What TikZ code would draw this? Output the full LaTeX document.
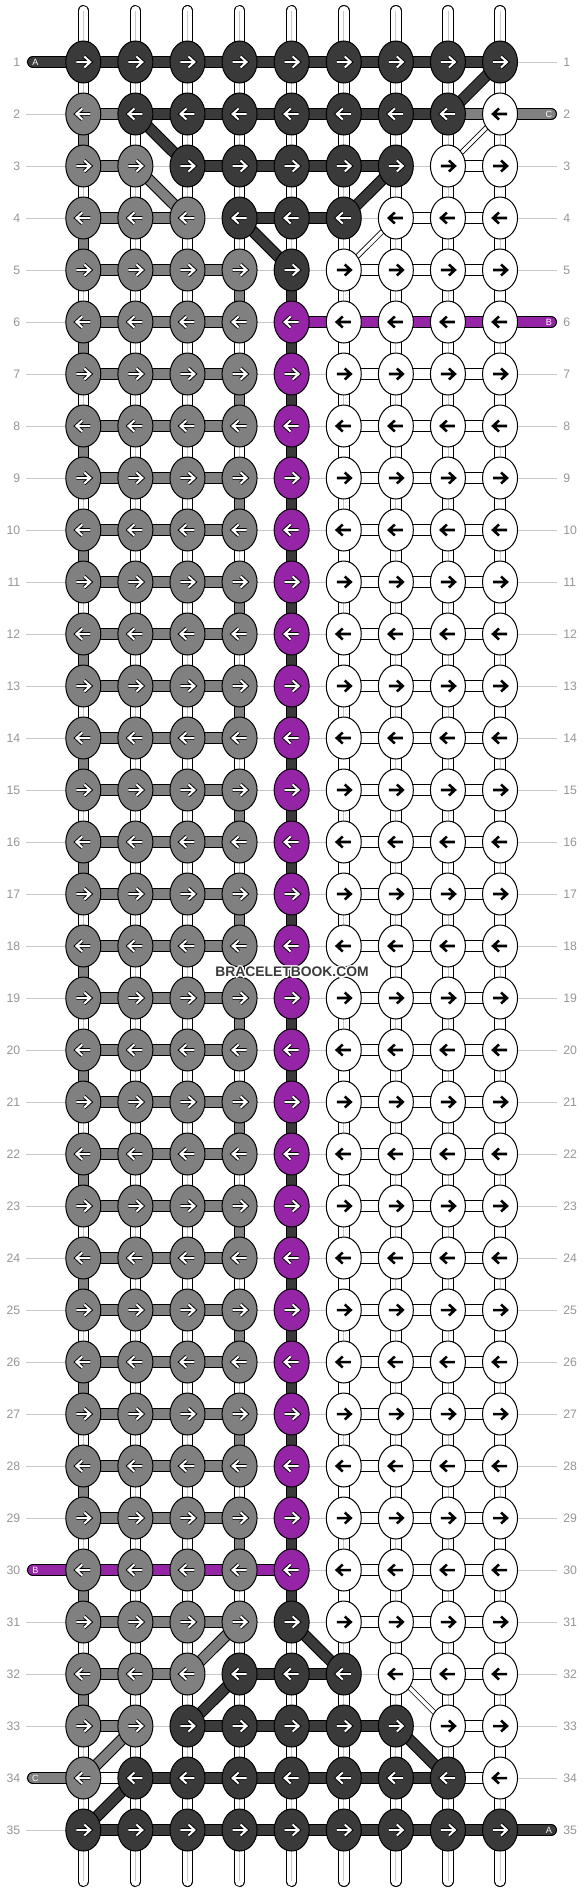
\documentclass[tikz,border=0pt]{standalone}
\usepackage{fontspec}
\setmainfont{Liberation Sans}
\usetikzlibrary{shapes.geometric}
\definecolor{kcD}{RGB}{58,58,58}
\definecolor{kcG}{RGB}{128,128,128}
\definecolor{kcW}{RGB}{255,255,255}
\definecolor{kcP}{RGB}{150,36,166}
\definecolor{kline}{RGB}{200,200,200}
\definecolor{knum}{RGB}{150,150,150}
\def\Wletter{W}
\begin{document}
\begin{tikzpicture}[x=0.75pt,y=-0.75pt,
  knot/.style={ellipse, draw=black, line width=0.75pt, minimum width=26.25pt, minimum height=31.5pt, inner sep=0pt},
  strandbar/.style={line width=0.75pt, draw=black, double=#1, double distance=7.2pt},
  thinbar/.style={line width=0.6pt, draw=black, double=#1, double distance=2.6pt},
  centerline/.style={draw=kline, line width=0.55pt},
  rowline/.style={draw=kline, line width=0.75pt},
  rownum/.style={text=knum, font=\fontsize{9.2}{11}\selectfont, inner sep=0pt},
  endlabel/.style={text=white, font=\fontsize{6.8}{8}\selectfont, inner sep=0pt},
  arrowblack/.style={draw=black, line width=1.9pt, line join=miter},
  arrowedge/.style={draw=black, line width=2.9pt, line join=miter},
  arrowwhite/.style={draw=white, line width=1.5pt, line join=miter},
  wmark/.style={font=\bfseries\fontsize{10.4}{12}\selectfont, text=kcD, inner sep=0pt}
]
\useasboundingbox (0,0) rectangle (584,1892);
\fill[white] (0,0) rectangle (584,1892);

% grid coordinates, row lines, row numbers
\foreach \rw in {1,...,35}{
  \foreach \cl in {0,...,8}{
    \coordinate (p-\rw-\cl) at ({83.3+52.09*\cl},{62+52*(\rw-1)});
  }
  \coordinate (L-\rw) at (26,{62+52*(\rw-1)});
  \coordinate (R-\rw) at (557,{62+52*(\rw-1)});
  \draw[rowline] (L-\rw) -- (R-\rw);
  \node[rownum, anchor=east] (nl-\rw) at (20.5,{62+52*(\rw-1)}) {\rw};
  \node[rownum, anchor=west] (nr-\rw) at (563,{62+52*(\rw-1)}) {\rw};
}

% top and bottom strands
\foreach \cl in {0,...,8}{
  \coordinate (T-\cl) at ({83.3+52.09*\cl},10.8);
  \coordinate (B-\cl) at ({83.3+52.09*\cl},1881.2);
  \draw[strandbar=white, line cap=round] (T-\cl) -- (p-1-\cl);
  \draw[centerline] (T-\cl) -- (p-1-\cl);
  \draw[strandbar=white, line cap=round] (p-35-\cl) -- (B-\cl);
  \draw[centerline] (p-35-\cl) -- (B-\cl);
}

% vertical segments (pairs of white strands)
\foreach \rw [evaluate=\rw as \rn using int(\rw+1)] in {1,...,34}{
  \foreach \cl in {0,...,8}{
    \draw[strandbar=white] (p-\rw-\cl) -- (p-\rn-\cl);
    \draw[centerline] (p-\rw-\cl) -- (p-\rn-\cl);
  }
}

% turning threads
\foreach \rw [evaluate=\rw as \rn using int(\rw+1)] in {2,4,...,32}{\draw[strandbar=kcG] (p-\rw-0) -- (p-\rn-0);}
\foreach \rw [evaluate=\rw as \rn using int(\rw+1)] in {5,7,...,29}{\draw[strandbar=kcG] (p-\rw-3) -- (p-\rn-3);}
\foreach \rw [evaluate=\rw as \rn using int(\rw+1)] in {3,5,...,33}{\draw[strandbar=kcW] (p-\rw-8) -- (p-\rn-8);}
\foreach \rw [evaluate=\rw as \rn using int(\rw+1)] in {6,8,...,30}{\draw[strandbar=kcW] (p-\rw-5) -- (p-\rn-5);}
\foreach \rw [evaluate=\rw as \rn using int(\rw+1)] in {5,...,30}{\draw[strandbar=kcD] (p-\rw-4) -- (p-\rn-4);}

% horizontal bars
\foreach \rw in {1,...,35}{
  \pgfmathtruncatemacro\kgL{min(\rw-1,35-\rw,4)}
  \pgfmathtruncatemacro\kgR{8-\kgL}
  \foreach \cl [evaluate=\cl as \cn using int(\cl+1)] in {0,...,7}{
    \ifnum\cn<\kgL\relax
      \draw[strandbar=kcG] (p-\rw-\cl) -- (p-\rw-\cn);
    \else\ifnum\cl>\kgR\relax
      \draw[strandbar=kcW] (p-\rw-\cl) -- (p-\rw-\cn);
    \else\ifnum\cl<\kgL\relax
    \else\ifnum\cn>\kgR\relax
    \else
      \draw[strandbar=kcD] (p-\rw-\cl) -- (p-\rw-\cn);
    \fi\fi\fi\fi
  }
}

% hidden threads showing between knots
\draw[strandbar=kcG] (p-2-0) -- (p-2-1);
\draw[strandbar=kcG] (p-2-7) -- (p-2-8);
\draw[strandbar=kcP] (p-6-4) -- (p-6-8);
\draw[strandbar=kcP] (p-30-0) -- (p-30-4);
\draw[strandbar=kcW] (p-34-0) -- (p-34-1);
\draw[strandbar=kcW] (p-34-7) -- (p-34-8);

% diagonals
\foreach \a/\b in {1-8/2-7, 2-1/3-2, 3-6/4-5, 4-3/5-4, 31-4/32-5, 32-3/33-2, 33-6/34-7, 34-1/35-0}
  {\draw[strandbar=kcD] (p-\a) -- (p-\b);}
\foreach \a/\b in {3-1/4-2, 31-3/32-2, 33-1/34-0}
  {\draw[strandbar=kcG] (p-\a) -- (p-\b);}
\foreach \a/\b in {2-8/3-7, 4-6/5-5, 32-6/33-7}
  {\draw[thinbar=kcW] (p-\a) -- (p-\b);}

% thread ends
\coordinate (eA1) at (32.8,62);
\coordinate (eA2) at (551.2,1830);
\coordinate (eC1) at (551.2,114);
\coordinate (eC2) at (32.8,1778);
\coordinate (eB1) at (551.2,322);
\coordinate (eB2) at (32.8,1570);
\draw[strandbar=kcD, line cap=round] (eA1) -- (p-1-0);
\draw[strandbar=kcD, line cap=round] (p-35-8) -- (eA2);
\draw[strandbar=kcG, line cap=round] (p-2-8) -- (eC1);
\draw[strandbar=kcG, line cap=round] (eC2) -- (p-34-0);
\draw[strandbar=kcP, line cap=round] (p-6-8) -- (eB1);
\draw[strandbar=kcP, line cap=round] (eB2) -- (p-30-0);
\node[endlabel] (lA1) at (35.5,62) {A};
\node[endlabel] (lA2) at (549,1830) {A};
\node[endlabel] (lC1) at (549,114) {C};
\node[endlabel] (lC2) at (35.5,1778) {C};
\node[endlabel] (lB1) at (549,322) {B};
\node[endlabel] (lB2) at (35.5,1570) {B};

% knots and arrows
\foreach \rw in {1,...,35}{
  \pgfmathtruncatemacro\kgL{min(\rw-1,35-\rw,4)}
  \pgfmathtruncatemacro\kgR{8-\kgL}
  \ifodd\rw\relax \def\kdir{1}\else\def\kdir{-1}\fi
  \foreach \cl in {0,...,8}{
    \ifnum\cl<\kgL\relax \def\kc{G}\else
      \ifnum\cl>\kgR\relax \def\kc{W}\else
        \ifnum\rw>5\relax \ifnum\rw<31\relax \def\kc{P}\else\def\kc{D}\fi\else\def\kc{D}\fi
      \fi
    \fi
    \node[knot, fill=kc\kc] (k-\rw-\cl) at (p-\rw-\cl) {};
    \ifx\kc\Wletter
      \draw[arrowblack, shift={(p-\rw-\cl)}, xscale=\kdir] (-7,0) -- (7,0) (1,-5.5) -- (7,0) -- (1,5.5);
    \else
      \draw[arrowedge, shift={(p-\rw-\cl)}, xscale=\kdir] (-7,0) -- (7,0) (1,-5.5) -- (7,0) -- (1,5.5);
      \draw[arrowwhite, shift={(p-\rw-\cl)}, xscale=\kdir] (-7,0) -- (7,0) (1,-5.5) -- (7,0) -- (1,5.5);
    \fi
  }
}

% watermark with white halo
\foreach \dx/\dy [count=\hi] in {-1.6/0, 1.6/0, 0/-1.6, 0/1.6, -1.1/-1.1, 1.1/-1.1, -1.1/1.1, 1.1/1.1}
  {\node[wmark, text=white] (wmh-\hi) at (292+\dx,972+\dy) {BRACELETBOOK.COM};}
\node[wmark] (wm) at (292,972) {BRACELETBOOK.COM};
\end{tikzpicture}
\end{document}
